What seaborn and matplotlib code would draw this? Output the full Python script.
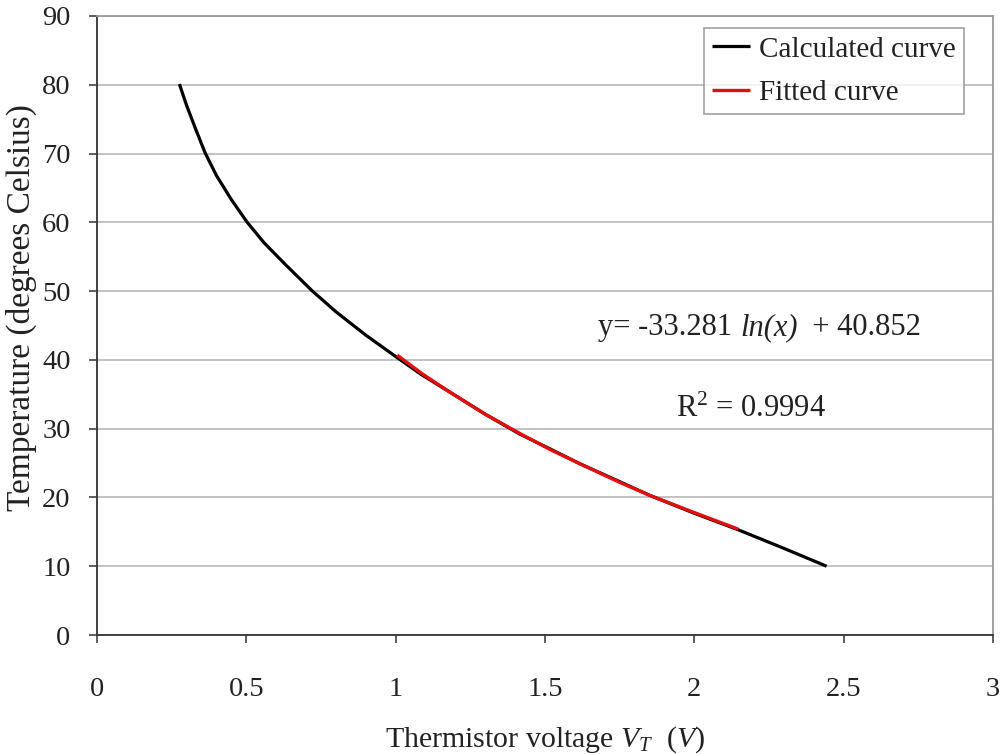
import matplotlib
matplotlib.use("Agg")
import matplotlib.pyplot as plt
import seaborn as sns
import pandas as pd

# calculated thermistor curve
calc_voltage = [0.276, 0.300, 0.330, 0.362, 0.400, 0.450, 0.503, 0.560, 0.630,
                0.719, 0.800, 0.900, 1.003, 1.085, 1.171, 1.300, 1.416, 1.520,
                1.617, 1.750, 1.851, 2.000, 2.147, 2.300, 2.443]
calc_temp = [80.1, 77.0, 73.6, 70.1, 66.8, 63.3, 60.0, 57.0, 53.9,
             50.1, 47.0, 43.6, 40.4, 37.9, 35.6, 32.1, 29.2, 27.0,
             24.9, 22.3, 20.3, 17.7, 15.3, 12.6, 10.0]

# fitted logarithmic curve
fit_voltage = [1.005, 1.085, 1.171, 1.300, 1.416, 1.520, 1.617, 1.750, 1.851,
               2.000, 2.147]
fit_temp = [40.7, 38.1, 35.6, 32.1, 29.3, 26.9, 24.9, 22.2, 20.3,
            17.8, 15.4]

eq_parts = ["y= -33.281 ", "ln(x)", "  + 40.852"]
r_squared = r"R$^2$ = 0.9994"

sns.set_theme(style="whitegrid")
plt.rcParams['font.family'] = ['Liberation Serif', 'DejaVu Serif']
plt.rcParams['mathtext.fontset'] = 'custom'
plt.rcParams['mathtext.rm'] = 'Liberation Serif'
plt.rcParams['mathtext.it'] = 'Liberation Serif:italic'

calc = pd.DataFrame({'voltage': calc_voltage, 'temp': calc_temp})
fit = pd.DataFrame({'voltage': fit_voltage, 'temp': fit_temp})

fig = plt.figure(figsize=(10.03, 7.54), dpi=100)
ax = fig.add_axes([0.0967, 0.1578, 0.8933, 0.821])

sns.lineplot(data=calc, x='voltage', y='temp', sort=False, color='black',
             linewidth=2.3, label='Calculated curve', ax=ax)
sns.lineplot(data=fit, x='voltage', y='temp', sort=False, color='#e01010',
             linewidth=2.4, label='Fitted curve', ax=ax)
for ln in ax.get_lines():
    ln.set_solid_joinstyle('round')
    ln.set_solid_capstyle('butt')

ax.set_xlim(0, 3)
ax.set_ylim(0, 90)
ax.set_xticks([0, 0.5, 1, 1.5, 2, 2.5, 3])
ax.set_xticklabels(['0', '0.5', '1', '1.5', '2', '2.5', '3'])
ax.set_yticks(range(0, 91, 10))

ax.grid(axis='x', visible=False)
ax.grid(axis='y', color='#bdbdbd', linewidth=1.3)
ax.set_facecolor('white')
for side in ['left', 'bottom']:
    ax.spines[side].set_color('#333333')
    ax.spines[side].set_linewidth(1.3)
for side in ['top', 'right']:
    ax.spines[side].set_color('#9a9a9a')
    ax.spines[side].set_linewidth(1.3)

ax.tick_params(axis='y', which='both', left=True, length=6, width=1.1,
               color='#333333', pad=13, labelsize=20.5, labelcolor='#222222')
ax.tick_params(axis='x', which='both', bottom=True, length=6, width=1.1,
               color='#333333', pad=24, labelsize=20.5, labelcolor='#222222')

ax.set_xlabel(r"Thermistor voltage $\mathit{V_T}$  $(\mathit{V})$", fontsize=21.5,
              color='#222222', labelpad=16)
ax.set_ylabel("Temperature (degrees Celsius)", fontsize=24, color='#222222')
ax.yaxis.set_label_coords(-0.067, 0.529)

# trend-line equation, with ln(x) in italics
t1 = ax.text(1.678, 43.6, eq_parts[0], fontsize=22, color='#222222',
             ha='left', va='baseline')
t2 = ax.annotate(eq_parts[1], xy=(1, 0), xycoords=t1, fontsize=22,
                 fontstyle='italic', color='#222222', ha='left', va='bottom')
ax.annotate(eq_parts[2], xy=(1, 0), xycoords=t2, fontsize=22,
            color='#222222', ha='left', va='bottom')
ax.text(2.19, 32.8, r_squared, fontsize=22, color='#222222',
        ha='center', va='center')

leg = ax.legend(loc='upper right', bbox_to_anchor=(0.9676, 0.9806),
                fontsize=21, frameon=True, fancybox=False, handlelength=1.3,
                handletextpad=0.3, borderpad=0.28, labelspacing=0.58,
                borderaxespad=0)
leg.get_frame().set_edgecolor('#8a8a8a')
leg.get_frame().set_linewidth(1.2)
for t in leg.get_texts():
    t.set_color('#222222')

fig.savefig('out.png', dpi=100)
